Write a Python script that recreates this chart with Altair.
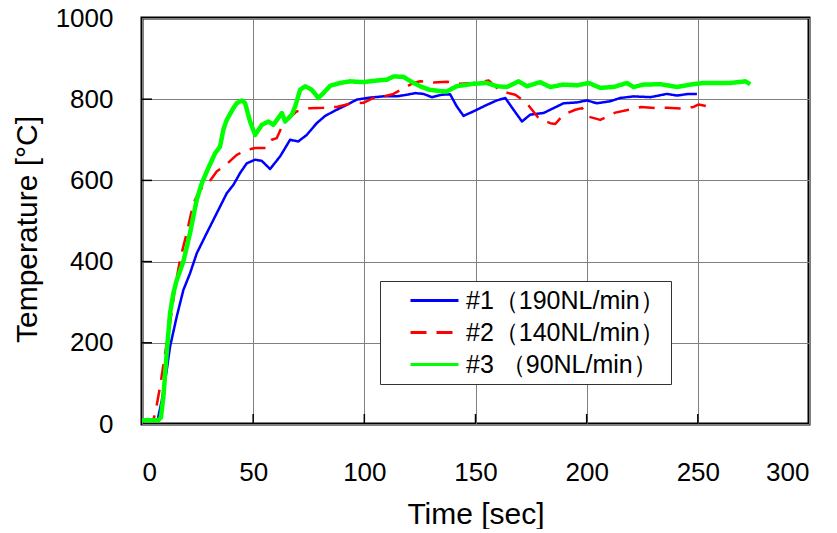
import altair as alt
import pandas as pd

names = ["#1（190NL/min）", "#2（140NL/min）", "#3 （90NL/min）"]
colors = ["#0000FF", "#FF0000", "#00FF00"]
dashes = [[1, 0], [16, 10], [1, 0]]

x_ticks = [0, 50, 100, 150, 200, 250, 300]
y_ticks = [0, 200, 400, 600, 800, 1000]

# Series #1 (190 NL/min)
t1 = [0, 7, 8.9, 11.1, 12.6, 15.6, 18.6, 21.6, 24.6, 29.1, 33.6, 38.1, 41.1, 44.1, 47.1,
      50.9, 53.9, 57.6, 62.1, 66.6, 70.3, 74.1, 78.6, 82.4, 87.6, 92.1, 96.6, 102.6, 108.6,
      114.6, 119.1, 122.9, 126.6, 130.4, 134.9, 138.6, 141.6, 144.6, 149.1, 155.1, 159.6,
      163.4, 167.1, 170.9, 174.6, 180.6, 185.1, 189.6, 195.6, 200.1, 204.6, 210.6, 215.1,
      221.1, 228.6, 236.1, 240.6, 245.9, 249.6]
v1 = [9, 9, 58, 132, 190, 264, 330, 371, 420, 470, 519, 568, 589, 618, 642,
      651, 648, 628, 659, 700, 696, 712, 741, 759, 774, 786, 799, 804, 807,
      807, 811, 815, 813, 805, 811, 812, 782, 759, 770, 786, 797,
      803, 774, 745, 762, 766, 778, 790, 792, 797, 790, 795, 803,
      807, 805, 813, 809, 813, 813]

# Series #2 (140 NL/min)
t2 = [0, 5, 5.9, 8.1, 10.4, 12.6, 14.9, 17.1, 20.1, 23.1, 26.1, 29.8, 33.6, 38.1, 42.6,
      47.1, 50.9, 56.1, 58.4, 60.6, 63.6, 69.6, 75.6, 81.6, 87.6, 93.6, 99.6, 104.1, 108,
      113.1, 117.6, 122.1, 125.1, 131.1, 137.1, 143.1, 149.1, 155.9, 161.1, 167.9, 173.1,
      178.4, 183.6, 185.9, 189.6, 194.9, 197.9, 200.9, 206.1, 212.9, 218.9, 224.5, 230.9,
      236.1, 242.9, 248.1, 250.4, 255.6]
v2 = [9, 10, 25, 91, 174, 248, 338, 404, 470, 544, 577, 593, 622, 640, 663,
      675, 680, 680, 700, 704, 741, 770, 778, 779, 781, 789, 791, 803, 806,
      813, 827, 840, 844, 841, 843, 838, 840, 846, 820, 811, 790,
      753, 741, 739, 762, 774, 778, 757, 749, 767, 774, 781, 778,
      779, 777, 781, 787, 781]

# Series #3 (90 NL/min)
t3 = [0, 7.3, 8.5, 9.6, 11.1, 12.6, 14.1, 15.6, 18.6, 21.6, 24.6, 26.9, 29.8, 32.9, 35.1,
      36.6, 38.1, 41.1, 42.6, 44.9, 46.4, 48.6, 50.9, 53.9, 56.9, 59.1, 62.9, 64.4, 67.4,
      68.9, 71.1, 73.4, 76.4, 79.3, 81.6, 84.6, 89.1, 93.6, 99.6, 105.6, 110.1, 113.1,
      117.6, 122.1, 125.9, 129.6, 134.1, 137, 141.6, 149, 155, 159.6, 164.1, 169.4, 173.1,
      179.1, 183.6, 189.6, 195.6, 200.9, 206.1, 212.1, 218.1, 221.1, 225.6, 233.1, 237.6,
      240.6, 246.6, 252.6, 258.6, 264.6, 271.4, 273.6]
v3 = [9, 9, 16, 66, 174, 272, 322, 354, 400, 470, 552, 593, 630, 667, 683,
      725, 749, 778, 790, 797, 790, 745, 712, 737, 745, 737, 766, 745, 762,
      782, 823, 832, 823, 803, 815, 833, 840, 844, 842, 846, 848, 856,
      855, 840, 830, 823, 820, 819, 832, 838, 840, 832, 830, 844, 832,
      842, 830, 836, 834, 840, 828, 830, 840, 830, 836, 837, 833,
      830, 836, 840, 840, 840, 844, 837]

rows = []
for name, ts, vs in zip(names, [t1, t2, t3], [v1, v2, v3]):
    for t, v in zip(ts, vs):
        rows.append({"series": name, "t": t, "temp": v})
df = pd.DataFrame(rows)

x_scale = alt.Scale(domain=[0, 300], nice=False, zero=False)
y_scale = alt.Scale(domain=[0, 1000], nice=False)
x_axis = alt.Axis(values=x_ticks, format="d", title="Time [sec]",
                  labelPadding=35, titlePadding=14)
y_axis = alt.Axis(values=y_ticks, format="d", title="Temperature [°C]",
                  labelPadding=29, titleX=-106, titleY=211, titleAngle=270,
                  titleBaseline="alphabetic", titleAlign="center")

legend = alt.Legend(
    title=None, orient="none", legendX=238, legendY=263,
    symbolType="M-2,0H2", symbolSize=576, symbolStrokeWidth=3,
    labelFont="Liberation Sans", labelFontSize=25, labelColor="black", labelLimit=400,
    padding=6, symbolOffset=35, labelOffset=18, rowPadding=5,
    strokeColor="#333333", fillColor="white",
)

lines = alt.Chart(df).mark_line(strokeJoin="round").encode(
    x=alt.X("t:Q", scale=x_scale, axis=x_axis),
    y=alt.Y("temp:Q", scale=y_scale, axis=y_axis),
    color=alt.Color("series:N", scale=alt.Scale(domain=names, range=colors), legend=legend),
    strokeDash=alt.StrokeDash("series:N", scale=alt.Scale(domain=names, range=dashes), legend=legend),
    strokeWidth=alt.condition(alt.datum.series == names[2], alt.value(4.5), alt.value(2.5)),
)

yt = pd.DataFrame({"v": y_ticks[1:-1]})
xt = pd.DataFrame({"v": x_ticks[1:-1]})

ytick_marks = alt.Chart(yt).mark_rule(color="black", strokeWidth=1.5).encode(
    y=alt.Y("v:Q", scale=y_scale, axis=y_axis),
    x=alt.value(0), x2=alt.value(10),
)
xtick_marks = alt.Chart(xt).mark_rule(color="black", strokeWidth=1.5).encode(
    x=alt.X("v:Q", scale=x_scale, axis=x_axis),
    y=alt.value(406), y2=alt.value(396),
)

chart = alt.layer(lines, ytick_marks, xtick_marks).properties(
    width=667, height=406,
    autosize=alt.AutoSizeParams(type="none"),
    padding={"left": 134, "top": 10, "right": 20, "bottom": 105},
).configure_view(
    stroke="black", strokeWidth=3
).configure_axis(
    grid=True, gridColor="#808080", gridWidth=1, domain=False, ticks=False, tickSize=0,
    labelFont="Liberation Sans", labelFontSize=26, labelColor="black",
    titleFont="Liberation Sans", titleFontSize=30, titleFontWeight="normal", titleColor="black",
)

chart.save("out.html", embed_options={"renderer": "svg", "actions": False})
